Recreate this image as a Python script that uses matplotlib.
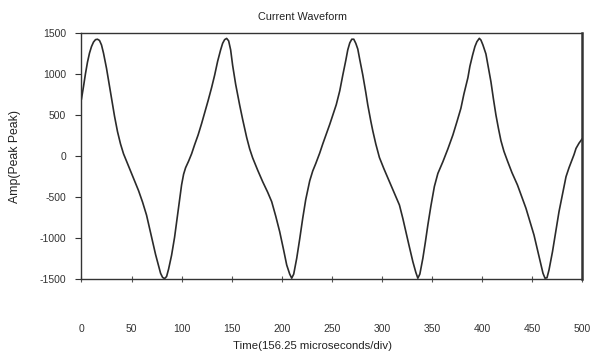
import matplotlib
matplotlib.use("Agg")
import matplotlib.pyplot as plt

# Sampled current waveform (time index, amplitude)
time = [
    0, 2, 4, 6, 8, 10, 12, 14, 16, 18, 20, 22, 25, 28, 30, 33, 36, 39, 42, 45,
    49, 53, 57, 61, 65, 68, 71, 74, 77, 79, 81, 83, 85, 87, 90, 93, 96, 98, 100, 102,
    104, 107, 110, 113, 116.5, 120, 123, 126.5, 130, 133, 136, 139, 141, 143, 145, 147, 149, 151, 154, 158,
    161, 165, 168, 171, 176, 181, 186, 190, 194, 198, 202, 205, 208, 210, 212, 215, 218, 221, 224, 228,
    231, 234, 238, 241, 244.5, 248, 251, 254.5, 258, 261, 264, 266, 268, 270, 272, 274, 276, 278, 281, 284,
    286, 289, 291, 294, 297.6, 302, 307.6, 312, 317.6, 321, 324, 327, 331, 334, 336, 338, 341, 343.5, 346, 349,
    352.5, 356, 361, 366, 371, 375, 379, 382, 386, 388, 390.7, 393, 395, 397.4, 399, 401, 404, 406.5, 409, 411.5,
    414, 416.5, 419, 422, 425.6, 430, 435.5, 440, 444, 448, 452, 456, 459, 461, 463, 465, 467, 470.5, 474, 477,
    481, 484, 487, 489, 492, 494, 497, 500,
]
amplitude = [
    700, 850, 1010, 1150, 1260, 1340, 1395, 1425, 1430, 1415, 1360, 1260, 1075, 860, 710, 490, 300, 150, 30, -60,
    -180, -300, -420, -560, -720, -880, -1040, -1200, -1340, -1430, -1480, -1495, -1470, -1380, -1210, -990, -720, -530, -350, -220,
    -140, -60, 30, 140, 260, 400, 530, 680, 840, 990, 1160, 1300, 1380, 1425, 1440, 1410, 1300, 1110, 880, 626,
    450, 230, 90, -20, -170, -311, -440, -555, -730, -922, -1150, -1329, -1440, -1490, -1440, -1247, -1010, -758, -530, -300,
    -180, -90, 40, 150, 270, 390, 500, 630, 800, 990, 1170, 1300, 1385, 1430, 1430, 1380, 1310, 1180, 993, 780,
    626, 430, 310, 150, -15, -150, -311, -440, -596, -760, -922, -1080, -1288, -1420, -1490, -1440, -1247, -1050, -840, -610,
    -370, -210, -67, 90, 260, 420, 586, 760, 960, 1100, 1237, 1340, 1400, 1441, 1420, 1360, 1250, 1080, 911, 700,
    504, 340, 190, 60, -60, -200, -351, -500, -636, -800, -962, -1170, -1329, -1430, -1490, -1485, -1390, -1166, -900, -677,
    -430, -250, -140, -75, 20, 96, 160, 210,
]

x_ticks = [0, 50, 100, 150, 200, 250, 300, 350, 400, 450, 500]
y_ticks = [-1500, -1000, -500, 0, 500, 1000, 1500]

title_text = "Current Waveform"
x_label = "Time(156.25 microseconds/div)"
y_label = "Amp(Peak Peak)"

plt.rcParams["font.family"] = ["Liberation Sans", "DejaVu Sans"]
plt.rcParams["axes.unicode_minus"] = False

fig = plt.figure(figsize=(5.93, 3.56), dpi=100)
ax = fig.add_axes([0.1374, 0.2163, 0.8441, 0.6896])

ax.plot(time, amplitude, color="#2b2b2b", linewidth=1.2, solid_joinstyle="round")

ax.set_xlim(0, 500)
ax.set_ylim(-1500, 1500)
ax.set_xticks(x_ticks)
ax.set_yticks(y_ticks)

for side in ["left", "right", "top", "bottom"]:
    ax.spines[side].set_color("#333333")
    ax.spines[side].set_linewidth(1.0)
ax.spines["right"].set_linewidth(1.8)

ax.tick_params(axis="y", direction="out", length=4, width=0.8, colors="#333333",
               labelsize=7.5, pad=7)
ax.tick_params(axis="x", direction="inout", length=5, width=0.8, colors="#555555",
               labelsize=7.5, pad=30, labelcolor="#333333")

fig.text(0.51, 0.952, title_text, ha="center", va="center", fontsize=7.8, color="#222222")
fig.text(0.527, 0.014, x_label, ha="center", va="bottom", fontsize=8.2, color="#222222")
fig.text(0.026, 0.56, y_label, ha="center", va="center", rotation=90, fontsize=8.8,
         color="#222222")

fig.savefig("out.png", dpi=100, facecolor="white")
